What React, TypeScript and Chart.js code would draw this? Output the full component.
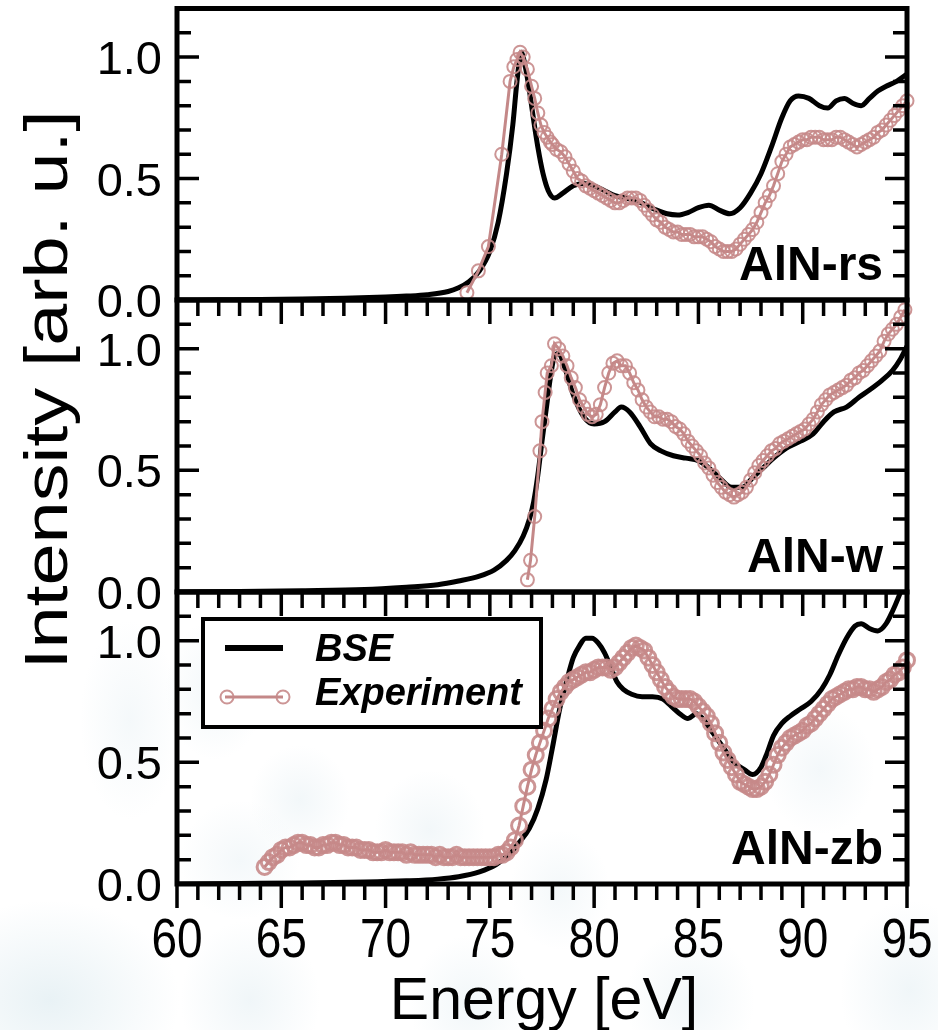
import { useEffect, useRef } from 'react';
import { Chart, registerables } from 'chart.js';

Chart.register(...registerables);

// ---- axes ----
const X_MIN = 60;
const X_MAX = 95;
const Y_MIN = 0;
const Y_MAX = 1.2;
const xTickValues = [60, 65, 70, 75, 80, 85, 90, 95];
const xTickLabels = ['60', '65', '70', '75', '80', '85', '90', '95'];
const yTickValues = [0, 0.5, 1.0];
const yTickLabels = ['0.0', '0.5', '1.0'];

const panelNames = ['AlN-rs', 'AlN-w', 'AlN-zb'];
const seriesNames = ['BSE', 'Experiment'];

// ---- AlN-rs ----
const rsBseEnergy = [60, 62, 64, 66, 68, 70, 71, 72, 73, 73.5, 74, 74.5, 75, 75.4, 75.8, 76.1, 76.3, 76.5, 76.7, 76.9, 77.1, 77.3, 77.55, 77.8, 78.1, 78.5, 79, 79.5, 80, 80.5, 81, 81.5, 82, 82.5, 83, 83.5, 84, 84.5, 85, 85.5, 86, 86.5, 87, 87.5, 88, 88.5, 89, 89.4, 89.8, 90.3, 90.8, 91.2, 91.6, 92, 92.4, 92.8, 93.2, 93.6, 94, 94.5, 95];
const rsBseIntensity = [0, 0.001, 0.002, 0.004, 0.007, 0.012, 0.016, 0.022, 0.035, 0.05, 0.075, 0.12, 0.2, 0.32, 0.52, 0.72, 0.9, 1.02, 0.96, 0.86, 0.74, 0.63, 0.52, 0.45, 0.42, 0.44, 0.47, 0.48, 0.47, 0.45, 0.43, 0.42, 0.41, 0.39, 0.37, 0.355, 0.35, 0.36, 0.38, 0.39, 0.37, 0.355, 0.38, 0.44, 0.52, 0.63, 0.75, 0.82, 0.84, 0.83, 0.8, 0.79, 0.82, 0.83, 0.81, 0.8, 0.83, 0.86, 0.88, 0.9, 0.93];

const rsExpEdgeEnergy = [73.9, 74.45, 74.93, 75.57, 75.97, 76.15, 76.3, 76.45, 76.6, 76.8, 77.0, 77.15, 77.3, 77.45, 77.6, 77.75, 77.9];
const rsExpEdgeIntensity = [0.03, 0.12, 0.22, 0.6, 0.9, 0.96, 0.99, 1.02, 1.0, 0.95, 0.88, 0.83, 0.77, 0.72, 0.69, 0.67, 0.65];
const rsExpStart = 78.0;
const rsExpStep = 0.2;
const rsExpIntensity = [
  0.64, 0.62, 0.61, 0.59, 0.56, 0.53, 0.5, 0.49, 0.47, 0.46,
  0.45, 0.44, 0.43, 0.42, 0.41, 0.4, 0.4, 0.41, 0.42, 0.42,
  0.42, 0.41, 0.39, 0.37, 0.35, 0.33, 0.32, 0.3, 0.29, 0.28,
  0.28, 0.27, 0.27, 0.27, 0.26, 0.26, 0.26, 0.25, 0.24, 0.22,
  0.21, 0.2, 0.2, 0.2, 0.21, 0.23, 0.25, 0.27, 0.29, 0.32,
  0.36, 0.4, 0.43, 0.47, 0.52, 0.57, 0.6, 0.63, 0.64, 0.65,
  0.66, 0.66, 0.67, 0.67, 0.67, 0.66, 0.66, 0.66, 0.67, 0.67,
  0.66, 0.65, 0.64, 0.63, 0.64, 0.65, 0.66, 0.67, 0.69, 0.7,
  0.72, 0.74, 0.76, 0.78, 0.8, 0.82,
];

// ---- AlN-w ----
const wBseEnergy = [60, 63, 66, 69, 71, 72.5, 73.5, 74.5, 75.2, 75.8, 76.2, 76.6, 76.9, 77.1, 77.3, 77.5, 77.7, 77.9, 78.1, 78.3, 78.6, 79, 79.5, 80, 80.5, 81, 81.3, 81.7, 82.2, 82.7, 83.2, 83.8, 84.4, 85, 85.5, 86, 86.6, 87.1, 87.6, 88.1, 88.6, 89.2, 89.9, 90.5, 91, 91.5, 92.1, 92.7, 93.2, 93.8, 94.3, 94.7, 95];
const wBseIntensity = [0, 0.002, 0.005, 0.01, 0.02, 0.03, 0.045, 0.065, 0.09, 0.13, 0.17, 0.23, 0.3, 0.37, 0.48, 0.62, 0.75, 0.88, 0.97, 0.98, 0.92, 0.81, 0.72, 0.69, 0.7, 0.74, 0.76, 0.74, 0.68, 0.61, 0.58, 0.56, 0.55, 0.54, 0.51, 0.47, 0.43, 0.43, 0.47, 0.51, 0.55, 0.59, 0.62, 0.65, 0.7, 0.74, 0.76, 0.8, 0.83, 0.87, 0.91, 0.96, 1.01];

const wExpEdgeEnergy = [76.8, 76.95, 77.15, 77.4, 77.5, 77.65, 77.75, 77.95, 78.1];
const wExpEdgeIntensity = [0.05, 0.13, 0.31, 0.58, 0.7, 0.82, 0.9, 0.93, 1.02];
const wExpStart = 78.3;
const wExpStep = 0.2;
const wExpIntensity = [
  1.0, 0.97, 0.93, 0.88, 0.84, 0.79, 0.76, 0.73, 0.72, 0.73,
  0.77, 0.84, 0.9, 0.94, 0.95, 0.93, 0.93, 0.9, 0.86, 0.83,
  0.79, 0.76, 0.74, 0.72, 0.72, 0.71, 0.71, 0.7, 0.68, 0.67,
  0.65, 0.62, 0.6, 0.58, 0.56, 0.53, 0.51, 0.48, 0.45, 0.43,
  0.41, 0.4, 0.39, 0.4, 0.41, 0.43, 0.46, 0.49, 0.52, 0.54,
  0.56, 0.58, 0.59, 0.61, 0.62, 0.63, 0.64, 0.65, 0.66, 0.67,
  0.69, 0.71, 0.74, 0.77, 0.79, 0.81, 0.82, 0.83, 0.84, 0.85,
  0.87, 0.88, 0.9, 0.91, 0.93, 0.95, 0.97, 0.99, 1.03, 1.06,
  1.08, 1.1, 1.13, 1.16,
];

// ---- AlN-zb ----
const zbBseEnergy = [60, 63, 66, 69, 71, 72.5, 73.5, 74.5, 75.3, 75.9, 76.4, 76.9, 77.3, 77.7, 78, 78.35, 78.7, 79, 79.3, 79.6, 79.9, 80.2, 80.5, 80.8, 81.1, 81.4, 81.8, 82.3, 82.8, 83.3, 83.7, 84.1, 84.5, 84.9, 85.2, 85.7, 86.2, 86.7, 87.2, 87.6, 88, 88.3, 88.6, 89, 89.4, 89.9, 90.4, 90.9, 91.3, 91.7, 92.1, 92.5, 92.8, 93.2, 93.6, 94, 94.3, 94.6, 94.9];
const zbBseIntensity = [0, 0.002, 0.004, 0.008, 0.013, 0.02, 0.03, 0.05, 0.08, 0.12, 0.17, 0.23, 0.31, 0.43, 0.56, 0.72, 0.84, 0.93, 0.98, 1.01, 1.01, 0.99, 0.95, 0.89, 0.83, 0.8, 0.78, 0.77, 0.77, 0.76, 0.73, 0.7, 0.68, 0.7, 0.68, 0.62, 0.56, 0.5, 0.47, 0.45, 0.48, 0.54, 0.61, 0.66, 0.69, 0.72, 0.75, 0.8, 0.86, 0.94, 1.01, 1.06, 1.07, 1.05, 1.04, 1.07, 1.12, 1.18, 1.25];

const zbExpStart = 64.2;
const zbExpStep = 0.2;
const zbExpIntensity = [
  0.07, 0.09, 0.11, 0.12, 0.14,
  0.15, 0.15, 0.16, 0.17, 0.17, 0.16, 0.16, 0.15, 0.15, 0.16,
  0.16, 0.17, 0.17, 0.16, 0.16, 0.15, 0.15, 0.15, 0.14, 0.14,
  0.14, 0.13, 0.13, 0.13, 0.14, 0.13, 0.13, 0.13, 0.13, 0.12,
  0.13, 0.12, 0.12, 0.12, 0.12, 0.12, 0.11, 0.12, 0.11, 0.11,
  0.11, 0.12, 0.11, 0.11, 0.11, 0.11, 0.11, 0.11, 0.11, 0.11,
  0.11, 0.12, 0.12, 0.13, 0.15, 0.18, 0.24, 0.32, 0.4, 0.47,
  0.53, 0.58, 0.63, 0.68, 0.72, 0.76, 0.79, 0.81, 0.83, 0.84,
  0.85, 0.86, 0.87, 0.87, 0.88, 0.89, 0.89, 0.89, 0.88, 0.89,
  0.91, 0.93, 0.95, 0.97, 0.98, 0.97, 0.96, 0.93, 0.9, 0.87,
  0.84, 0.81, 0.79, 0.77, 0.76, 0.76, 0.76, 0.76, 0.75, 0.73,
  0.71, 0.69, 0.66, 0.62, 0.58, 0.54, 0.51, 0.48, 0.45, 0.42,
  0.41, 0.4, 0.39, 0.39, 0.4, 0.42, 0.45, 0.49, 0.53, 0.56,
  0.58, 0.6, 0.61, 0.62, 0.63, 0.65, 0.66, 0.68, 0.7, 0.72,
  0.74, 0.76, 0.77, 0.78, 0.79, 0.8, 0.8, 0.81, 0.81, 0.8,
  0.8, 0.79, 0.8, 0.81, 0.83, 0.84, 0.86, 0.87, 0.89, 0.92,
];

// ---- helpers ----
type Pt = { x: number; y: number };

const pairUp = (xs: number[], ys: number[]): Pt[] => ys.map((y, i) => ({ x: xs[i], y }));
// measurement grid: evenly spaced energies, one per recorded intensity
const onGrid = (start: number, step: number, ys: number[]): Pt[] =>
  ys.map((y, i) => ({ x: Math.round((start + i * step) * 100) / 100, y }));

const FONT = "'Liberation Sans', Arial, Helvetica, sans-serif";
const BSE_COLOR = '#000000';
const EXP_COLOR = '#C48888';
const EXP_POINT = 'rgba(198, 138, 138, 0.9)';

const W = 938;
const H = 1030;
const PLOT_LEFT = 177;
const PLOT_RIGHT = 907;

type Panel = {
  name: string;
  top: number;
  bottom: number;
  bse: Pt[];
  exp: Pt[];
  markerRadius: number;
  markerStroke: number;
  xLabels: boolean;
  yTitle: boolean;
  legend: boolean;
};

const panels: Panel[] = [
  {
    name: panelNames[0], top: 8, bottom: 300,
    bse: pairUp(rsBseEnergy, rsBseIntensity),
    exp: [...pairUp(rsExpEdgeEnergy, rsExpEdgeIntensity), ...onGrid(rsExpStart, rsExpStep, rsExpIntensity)],
    markerRadius: 6.5, markerStroke: 2,
    xLabels: false, yTitle: false, legend: false,
  },
  {
    name: panelNames[1], top: 300, bottom: 592,
    bse: pairUp(wBseEnergy, wBseIntensity),
    exp: [...pairUp(wExpEdgeEnergy, wExpEdgeIntensity), ...onGrid(wExpStart, wExpStep, wExpIntensity)],
    markerRadius: 6.5, markerStroke: 2,
    xLabels: false, yTitle: true, legend: false,
  },
  {
    name: panelNames[2], top: 592, bottom: 884,
    bse: pairUp(zbBseEnergy, zbBseIntensity),
    exp: onGrid(zbExpStart, zbExpStep, zbExpIntensity),
    markerRadius: 7.5, markerStroke: 3,
    xLabels: true, yTitle: false, legend: true,
  },
];

// Frame, inward y ticks, downward x ticks, tick labels, panel tag, titles, legend
const panelDecor = {
  id: 'panelDecor',
  afterDraw(chart: any, _args: unknown, opts: any) {
    const { ctx, chartArea: a } = chart;
    const xs = chart.scales.x;
    const ys = chart.scales.y;
    ctx.save();
    ctx.strokeStyle = '#000';
    ctx.fillStyle = '#000';
    ctx.lineCap = 'butt';

    ctx.lineWidth = 3.5;
    ctx.beginPath();
    for (let k = 1; k < 12; k++) {
      const py = ys.getPixelForValue(k / 10);
      const len = k % 5 === 0 ? 22 : 14;
      ctx.moveTo(a.left, py);
      ctx.lineTo(a.left + len, py);
      ctx.moveTo(a.right, py);
      ctx.lineTo(a.right - len, py);
    }
    for (let e = X_MIN; e <= X_MAX; e++) {
      const px = xs.getPixelForValue(e);
      const len = e % 5 === 0 ? 24 : 16;
      ctx.moveTo(px, a.bottom);
      ctx.lineTo(px, a.bottom + len);
    }
    ctx.stroke();

    ctx.lineWidth = 5;
    ctx.strokeRect(a.left, a.top, a.right - a.left, a.bottom - a.top);

    // y tick labels
    ctx.font = `47px ${FONT}`;
    ctx.textAlign = 'right';
    ctx.textBaseline = 'alphabetic';
    yTickValues.forEach((v, i) => {
      ctx.fillText(yTickLabels[i], a.left - 15, ys.getPixelForValue(v) + 17);
    });

    // panel tag
    ctx.font = `bold 48px ${FONT}`;
    ctx.textAlign = 'right';
    ctx.fillText(opts.name, a.right - 24, a.bottom - 20);

    if (opts.xLabels) {
      ctx.font = `46px ${FONT}`;
      ctx.textAlign = 'center';
      xTickValues.forEach((v, i) => {
        ctx.save();
        ctx.translate(xs.getPixelForValue(v), a.bottom + 73);
        ctx.scale(1, 1.22);
        ctx.fillText(xTickLabels[i], 0, 0);
        ctx.restore();
      });
      ctx.font = `59px ${FONT}`;
      ctx.fillText('Energy [eV]', (a.left + a.right) / 2 + 2, a.bottom + 135);
    }

    if (opts.yTitle) {
      ctx.save();
      ctx.translate(67, a.top + 90);
      ctx.rotate(-Math.PI / 2);
      ctx.scale(1.22, 1);
      ctx.font = `62px ${FONT}`;
      ctx.textAlign = 'center';
      ctx.fillText('Intensity [arb. u.]', 0, 0);
      ctx.restore();
    }

    if (opts.legend) {
      const bx = a.left + 26;
      const by = a.top + 27;
      const bw = 338;
      const bh = 108;
      ctx.fillStyle = '#fff';
      ctx.fillRect(bx, by, bw, bh);
      ctx.lineWidth = 4;
      ctx.strokeRect(bx, by, bw, bh);
      const rows = [
        { y: by + 29, text: by + 42 },
        { y: by + 78, text: by + 86 },
      ];
      seriesNames.forEach((name, i) => {
        const ds = chart.data.datasets.find((d: any) => d.label === name);
        if (!ds) return;
        const r = rows[i];
        ctx.strokeStyle = ds.borderColor;
        ctx.lineWidth = ds.pointRadius > 0 ? ds.borderWidth : ds.borderWidth + 1;
        ctx.beginPath();
        ctx.moveTo(bx + 22, r.y);
        ctx.lineTo(bx + 80, r.y);
        ctx.stroke();
        if (ds.pointRadius > 0) {
          ctx.strokeStyle = ds.pointBorderColor;
          ctx.lineWidth = 2;
          [bx + 24, bx + 80].forEach((cx) => {
            ctx.beginPath();
            ctx.arc(cx, r.y, 6.5, 0, Math.PI * 2);
            ctx.stroke();
          });
        }
        ctx.fillStyle = '#000';
        ctx.font = `italic bold 38px ${FONT}`;
        ctx.textAlign = 'left';
        ctx.fillText(name, bx + 112, r.text);
      });
    }
    ctx.restore();
  },
};

function makeChart(canvas: HTMLCanvasElement, p: Panel) {
  return new Chart(canvas, {
    type: 'line',
    data: {
      datasets: [
        {
          label: seriesNames[1],
          data: p.exp,
          order: 0,
          borderColor: EXP_COLOR,
          borderWidth: 3,
          pointRadius: p.markerRadius,
          pointBorderWidth: p.markerStroke,
          pointBorderColor: EXP_POINT,
          pointBackgroundColor: 'rgba(0,0,0,0)',
          tension: 0,
          clip: false,
        } as any,
        {
          label: seriesNames[0],
          data: p.bse,
          order: 1,
          borderColor: BSE_COLOR,
          borderWidth: 5,
          pointRadius: 0,
          tension: 0.4,
          cubicInterpolationMode: 'monotone',
        } as any,
      ],
    },
    options: {
      responsive: false,
      maintainAspectRatio: false,
      animation: false,
      devicePixelRatio: 1,
      events: [],
      layout: {
        padding: { left: PLOT_LEFT, right: W - PLOT_RIGHT, top: p.top, bottom: H - p.bottom },
      },
      scales: {
        x: { type: 'linear', min: X_MIN, max: X_MAX, display: false },
        y: { type: 'linear', min: Y_MIN, max: Y_MAX, display: false },
      },
      plugins: {
        legend: { display: false },
        tooltip: { enabled: false },
        panelDecor: {
          name: p.name,
          xLabels: p.xLabels,
          yTitle: p.yTitle,
          legend: p.legend,
        },
      } as any,
    },
    plugins: [panelDecor],
  });
}

// faint pale-blue print haze behind the lower part of the figure
const haze = [
  'radial-gradient(ellipse 130px 100px at 50px 1000px, rgba(175,208,220,0.28), rgba(175,208,220,0) 100%)',
  'radial-gradient(ellipse 70px 80px at 250px 1000px, rgba(180,210,222,0.2), rgba(180,210,222,0) 100%)',
  'radial-gradient(ellipse 60px 70px at 470px 1005px, rgba(180,210,222,0.18), rgba(180,210,222,0) 100%)',
  'radial-gradient(ellipse 65px 70px at 690px 1000px, rgba(180,210,222,0.18), rgba(180,210,222,0) 100%)',
  'radial-gradient(ellipse 70px 90px at 910px 990px, rgba(180,210,222,0.2), rgba(180,210,222,0) 100%)',
  'radial-gradient(ellipse 50px 70px at 215px 690px, rgba(185,212,224,0.18), rgba(185,212,224,0) 100%)',
  'radial-gradient(ellipse 50px 55px at 300px 800px, rgba(185,212,224,0.18), rgba(185,212,224,0) 100%)',
  'radial-gradient(ellipse 55px 60px at 430px 830px, rgba(185,212,224,0.18), rgba(185,212,224,0) 100%)',
  'radial-gradient(ellipse 50px 60px at 560px 890px, rgba(185,212,224,0.16), rgba(185,212,224,0) 100%)',
  'radial-gradient(ellipse 55px 65px at 820px 770px, rgba(185,212,224,0.16), rgba(185,212,224,0) 100%)',
  'radial-gradient(ellipse 60px 60px at 240px 860px, rgba(185,212,224,0.16), rgba(185,212,224,0) 100%)',
  'radial-gradient(ellipse 50px 100px at 130px 720px, rgba(185,212,224,0.15), rgba(185,212,224,0) 100%)',
].join(', ');

export default function App() {
  const r0 = useRef<HTMLCanvasElement>(null);
  const r1 = useRef<HTMLCanvasElement>(null);
  const r2 = useRef<HTMLCanvasElement>(null);

  useEffect(() => {
    const refs = [r0, r1, r2];
    const charts = panels.map((p, i) => makeChart(refs[i].current as HTMLCanvasElement, p));
    return () => charts.forEach((c) => c.destroy());
  }, []);

  const canvasStyle: React.CSSProperties = { position: 'absolute', left: 0, top: 0 };
  return (
    <div
      style={{
        position: 'absolute', left: 0, top: 0, width: W, height: H, overflow: 'hidden',
        backgroundColor: '#fff', backgroundImage: haze,
      }}
    >
      <canvas ref={r0} width={W} height={H} style={canvasStyle} />
      <canvas ref={r1} width={W} height={H} style={canvasStyle} />
      <canvas ref={r2} width={W} height={H} style={canvasStyle} />
    </div>
  );
}
